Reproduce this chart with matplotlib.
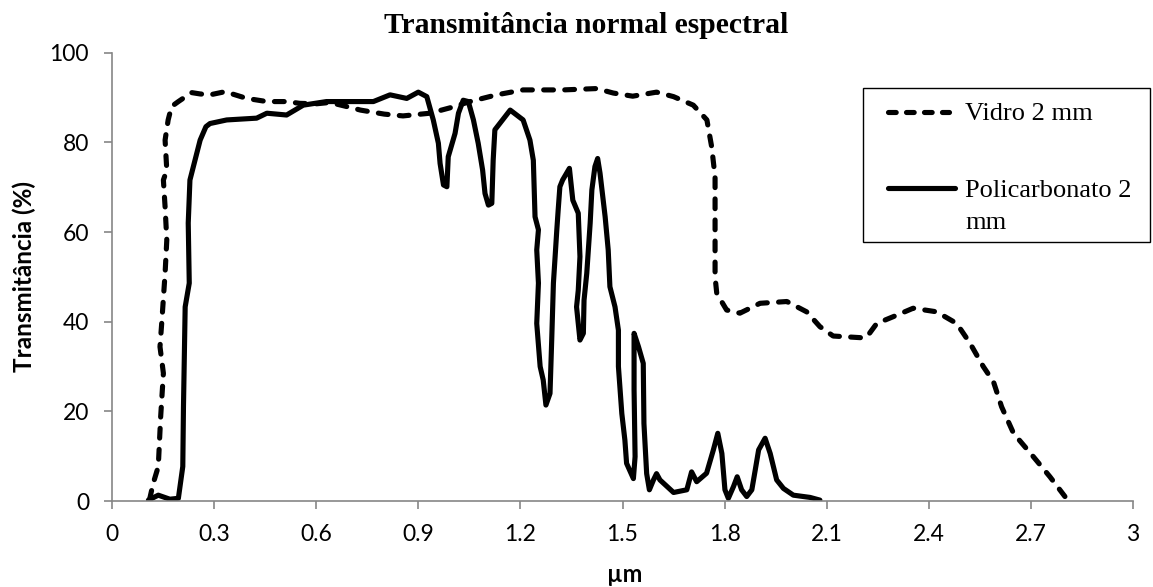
import matplotlib
matplotlib.use("Agg")
import matplotlib.pyplot as plt
from matplotlib.lines import Line2D
from matplotlib.patches import Rectangle

# ---- data ----
vidro_x = [0.110, 0.121, 0.136, 0.143, 0.151, 0.141, 0.146, 0.156, 0.161, 0.156, 0.151, 0.161,
           0.156, 0.165, 0.175, 0.195, 0.224, 0.234, 0.259, 0.288, 0.332, 0.396, 0.455, 0.513,
           0.552, 0.600, 0.640, 0.700, 0.730, 0.800, 0.855, 0.934, 0.993, 1.052, 1.130, 1.208,
           1.326, 1.424, 1.473, 1.530, 1.600, 1.650, 1.708, 1.748, 1.762, 1.772, 1.772, 1.772,
           1.777, 1.806, 1.845, 1.904, 1.983, 2.041, 2.080, 2.119, 2.207, 2.218, 2.247, 2.295,
           2.354, 2.423, 2.482, 2.521, 2.560, 2.590, 2.614, 2.649, 2.707, 2.756, 2.800]
vidro_y = [0.2, 3.9, 7.7, 18.8, 28.5, 34.4, 39.6, 50.8, 58.2, 65.6, 71.6, 73.8,
           80.5, 85.0, 88.0, 89.1, 90.6, 91.1, 90.8, 90.6, 91.3, 89.8, 89.1, 89.1,
           88.7, 88.6, 88.9, 87.8, 87.2, 86.3, 85.9, 86.5, 87.7, 89.1, 90.6, 91.7,
           91.7, 92.0, 91.0, 90.3, 91.2, 90.2, 88.3, 85.0, 79.0, 72.3, 61.2, 50.0,
           46.3, 42.6, 41.9, 44.1, 44.5, 42.2, 38.9, 36.8, 36.4, 36.6, 39.6, 41.1,
           43.0, 42.2, 39.6, 35.2, 30.0, 26.6, 21.0, 15.1, 9.9, 5.4, 1.0]

poli_x = [0.107, 0.136, 0.170, 0.195, 0.208, 0.210, 0.215, 0.227, 0.224, 0.229, 0.259, 0.276,
          0.288, 0.337, 0.425, 0.455, 0.513, 0.562, 0.630, 0.768, 0.817, 0.866, 0.900, 0.925,
          0.944, 0.959, 0.964, 0.974, 0.984, 0.988, 1.008, 1.018, 1.032, 1.047, 1.062, 1.076,
          1.089, 1.096, 1.106, 1.116, 1.120, 1.125, 1.170, 1.208, 1.228, 1.238, 1.243, 1.253,
          1.248, 1.253, 1.248, 1.258, 1.267, 1.275, 1.287, 1.292, 1.297, 1.302, 1.307, 1.311,
          1.316, 1.324, 1.344, 1.354, 1.370, 1.375, 1.370, 1.365, 1.375, 1.385, 1.387, 1.395,
          1.405, 1.410, 1.419, 1.427, 1.434, 1.449, 1.458, 1.463, 1.478, 1.488, 1.488, 1.498,
          1.507, 1.512, 1.532, 1.537, 1.534, 1.534, 1.547, 1.561, 1.563, 1.571, 1.579, 1.591,
          1.600, 1.610, 1.650, 1.689, 1.703, 1.718, 1.747, 1.767, 1.780, 1.792, 1.801, 1.811,
          1.826, 1.837, 1.850, 1.865, 1.880, 1.890, 1.900, 1.919, 1.934, 1.953, 1.973, 2.002,
          2.051, 2.080]
poli_y = [0.2, 1.3, 0.4, 0.6, 7.7, 21.0, 43.3, 48.6, 62.0, 71.6, 80.5, 83.5,
          84.2, 85.0, 85.4, 86.5, 86.1, 88.3, 89.1, 89.1, 90.6, 89.8, 91.2, 90.2,
          85.0, 79.8, 75.3, 70.5, 70.1, 76.8, 82.0, 86.5, 89.4, 89.1, 85.0, 79.8,
          73.8, 68.6, 66.0, 66.4, 76.0, 82.8, 87.2, 85.0, 80.5, 76.0, 63.4, 60.5,
          56.0, 48.6, 39.6, 30.0, 27.0, 21.4, 24.0, 35.9, 48.6, 54.5, 60.5, 64.9,
          70.1, 71.6, 74.2, 67.1, 64.2, 54.5, 47.0, 43.3, 35.9, 37.4, 44.8, 50.8,
          62.0, 69.4, 74.6, 76.4, 73.1, 63.4, 56.0, 47.8, 43.3, 38.1, 30.0, 19.5,
          13.6, 8.4, 5.0, 9.9, 24.8, 37.4, 34.4, 30.7, 17.3, 6.1, 2.5, 4.7,
          6.1, 4.7, 1.9, 2.5, 6.5, 4.3, 6.2, 11.4, 15.1, 10.6, 2.5, 0.6,
          3.2, 5.4, 2.5, 1.0, 2.5, 6.9, 11.4, 14.0, 10.6, 4.7, 2.8, 1.3,
          0.8, 0.2]

series_labels = ["Vidro 2 mm", "Policarbonato 2\nmm"]
x_ticks = [0, 0.3, 0.6, 0.9, 1.2, 1.5, 1.8, 2.1, 2.4, 2.7, 3]
x_tick_labels = ["0", "0.3", "0.6", "0.9", "1.2", "1.5", "1.8", "2.1", "2.4", "2.7", "3"]
y_ticks = [0, 20, 40, 60, 80, 100]
title = "Transmitância normal espectral"
xlabel = "µm"
ylabel = "Transmitância (%)"

# ---- figure ----
W, H = 1153, 587
fig = plt.figure(figsize=(W / 100, H / 100), dpi=100)
L, R, T, B = 112, 1133, 52.7, 501
ax = fig.add_axes([L / W, 1 - B / H, (R - L) / W, (B - T) / H])

LW = 3.7
dash = (1.9, 2.2)
ax.plot(vidro_x, vidro_y, color="black", lw=LW, dashes=dash,
        dash_capstyle="round", dash_joinstyle="round")
ax.plot(poli_x, poli_y, color="black", lw=LW, solid_capstyle="round",
        solid_joinstyle="round")

ax.set_xlim(0, 3)
ax.set_ylim(0, 100)
ax.set_xticks(x_ticks)
ax.set_xticklabels(x_tick_labels)
ax.set_yticks(y_ticks)

gray = "#868686"
for s in ["top", "right"]:
    ax.spines[s].set_visible(False)
for s in ["left", "bottom"]:
    ax.spines[s].set_color(gray)
    ax.spines[s].set_linewidth(1.2)
ax.tick_params(axis="both", direction="out", length=5.5, width=1.2, color=gray,
               labelsize=16.5, labelcolor="black")
ax.tick_params(axis="y", pad=11)
ax.tick_params(axis="x", pad=11)
for lab in ax.get_xticklabels() + ax.get_yticklabels():
    lab.set_family("Lato")

ax.set_ylabel(ylabel, family="Lato", fontweight="bold", fontsize=17.5)
ax.yaxis.set_label_coords((36 - L) / (R - L), 0.5)
ax.set_xlabel(xlabel, family="Lato", fontweight="bold", fontsize=17, va="center")
ax.xaxis.set_label_coords((625 - L) / (R - L), (B - 574) / (B - T))

fig.text(586 / W, 1 - 33 / H, title, family="Liberation Serif", fontweight="bold",
         fontsize=21.3, ha="center", va="baseline")

# ---- legend (manual, Excel style) ----
fx = lambda px: px / W
fy = lambda py: 1 - py / H
fig.patches.append(Rectangle((fx(863), fy(241.7)), fx(1150) - fx(863), fy(88.3) - fy(241.7),
                             transform=fig.transFigure, fill=False, edgecolor="black",
                             lw=1.0))
fig.lines.append(Line2D([fx(888), fx(949)], [fy(111.7), fy(111.7)], transform=fig.transFigure,
                        color="black", lw=LW, dashes=(1.5, 2.0), dash_capstyle="round"))
fig.lines.append(Line2D([fx(888), fx(955)], [fy(188.3), fy(188.3)], transform=fig.transFigure,
                        color="black", lw=LW, solid_capstyle="round"))
fig.text(fx(965), fy(120), series_labels[0], family="Liberation Serif", fontsize=19,
         ha="left", va="baseline")
lines2 = series_labels[1].split("\n")
fig.text(fx(965), fy(197), lines2[0], family="Liberation Serif", fontsize=19,
         ha="left", va="baseline")
fig.text(fx(965), fy(229), lines2[1], family="Liberation Serif", fontsize=19,
         ha="left", va="baseline")

fig.savefig("out.png", dpi=100)
